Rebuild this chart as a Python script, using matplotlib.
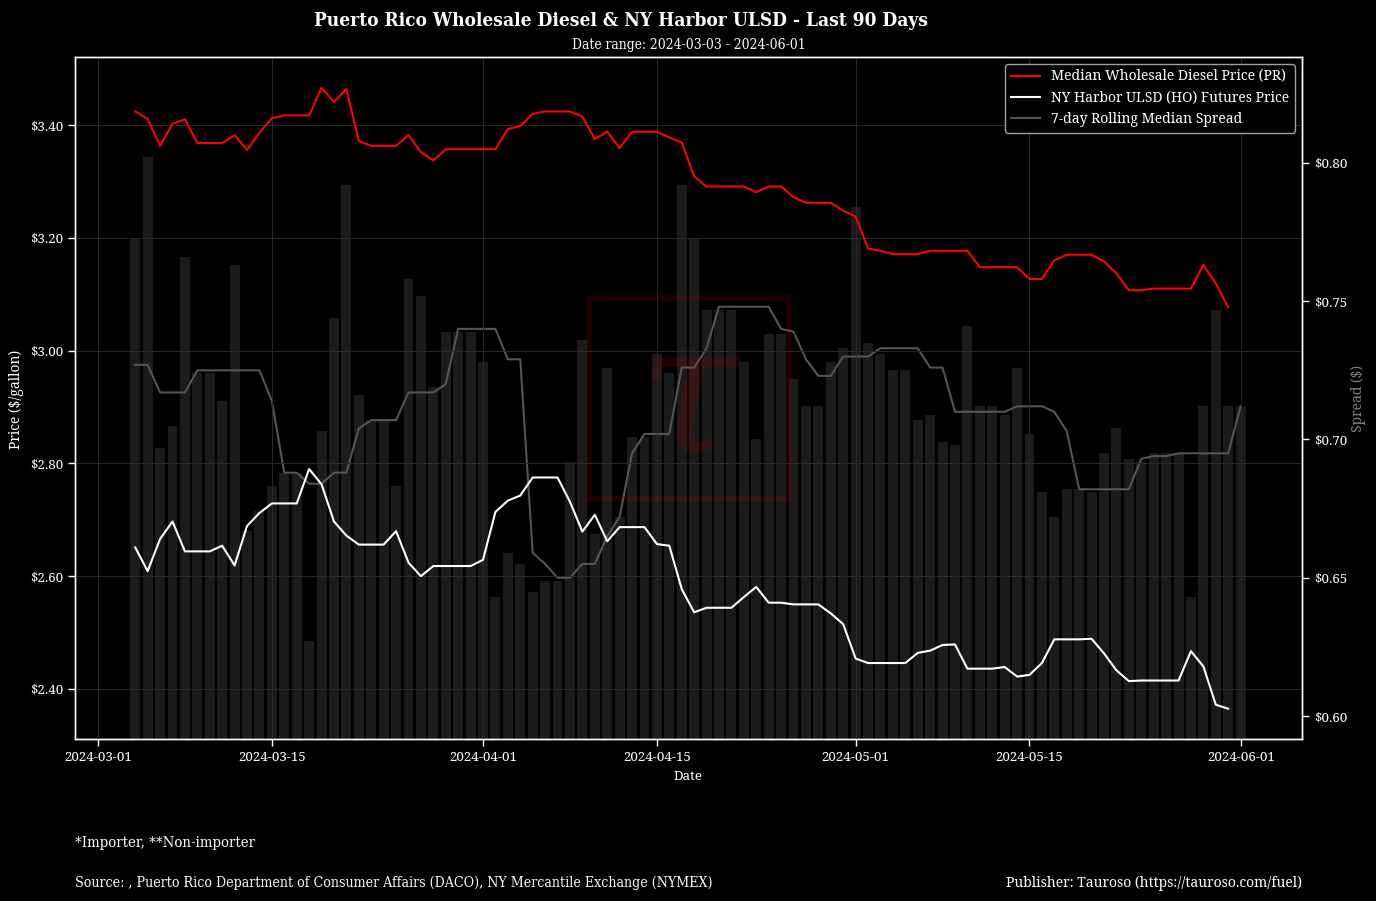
import matplotlib
matplotlib.use('Agg')
import matplotlib.pyplot as plt
import matplotlib.dates as mdates
from matplotlib import font_manager as fm
from matplotlib.font_manager import FontProperties
from matplotlib.patches import Rectangle
from matplotlib.lines import Line2D
from matplotlib.ticker import FuncFormatter, FixedLocator
import pandas as pd

# ---------------- data ----------------
dates = pd.date_range('2024-03-04', '2024-06-01', freq='D')   # 90 days
line_dates = dates[:89]                                       # lines end 2024-05-31

pr_price = [
    3.424, 3.411, 3.363, 3.402, 3.410, 3.368, 3.368, 3.368, 3.382, 3.356,
    3.386, 3.412, 3.417, 3.417, 3.417, 3.466, 3.441, 3.464, 3.372, 3.363,
    3.363, 3.363, 3.382, 3.352, 3.337, 3.357, 3.357, 3.357,
    3.357, 3.357, 3.393, 3.398, 3.420, 3.424, 3.424, 3.424, 3.415, 3.375,
    3.388, 3.359, 3.388, 3.388, 3.388, 3.378, 3.369, 3.309, 3.291, 3.291,
    3.291, 3.291, 3.281, 3.291, 3.291, 3.272, 3.262, 3.262, 3.262, 3.248,
    3.238, 3.181, 3.177, 3.171, 3.171, 3.171, 3.177, 3.177, 3.177, 3.177,
    3.148, 3.148, 3.148, 3.148, 3.127, 3.127, 3.160, 3.170, 3.170, 3.170,
    3.158, 3.137, 3.107, 3.107, 3.110, 3.110, 3.110, 3.110, 3.152, 3.119,
    3.077,
]

ho_price = [
    2.651, 2.609, 2.666, 2.697, 2.644, 2.644, 2.644, 2.654, 2.619, 2.689,
    2.712, 2.729, 2.729, 2.729, 2.790, 2.763, 2.697, 2.672, 2.656, 2.656,
    2.656, 2.680, 2.624, 2.600, 2.618, 2.618, 2.618, 2.618,
    2.629, 2.714, 2.734, 2.743, 2.775, 2.775, 2.775, 2.732, 2.679, 2.709,
    2.662, 2.687, 2.687, 2.687, 2.657, 2.654, 2.577, 2.536, 2.544, 2.544,
    2.544, 2.563, 2.581, 2.553, 2.553, 2.550, 2.550, 2.550, 2.534, 2.515,
    2.454, 2.446, 2.446, 2.446, 2.446, 2.464, 2.468, 2.478, 2.479, 2.436,
    2.436, 2.436, 2.439, 2.422, 2.425, 2.446, 2.488, 2.488, 2.488, 2.489,
    2.463, 2.433, 2.414, 2.415, 2.415, 2.415, 2.415, 2.467, 2.440, 2.372,
    2.365,
]

daily_spread = [
    0.773, 0.802, 0.697, 0.705, 0.766, 0.724, 0.724, 0.714, 0.763, 0.667,
    0.674, 0.683, 0.688, 0.688, 0.627, 0.703, 0.744, 0.792, 0.716, 0.707,
    0.707, 0.683, 0.758, 0.752, 0.719, 0.739, 0.739, 0.739,
    0.728, 0.643, 0.659, 0.655, 0.645, 0.649, 0.649, 0.692, 0.736, 0.666,
    0.726, 0.672, 0.701, 0.701, 0.731, 0.724, 0.792, 0.773, 0.747, 0.747,
    0.747, 0.728, 0.700, 0.738, 0.738, 0.722, 0.712, 0.712, 0.728, 0.733,
    0.784, 0.735, 0.731, 0.725, 0.725, 0.707, 0.709, 0.699, 0.698, 0.741,
    0.712, 0.712, 0.709, 0.726, 0.702, 0.681, 0.672, 0.682, 0.682, 0.681,
    0.695, 0.704, 0.693, 0.692, 0.695, 0.695, 0.695, 0.643, 0.712, 0.747,
    0.712, 0.712,
]

rolling_spread = [
    0.727, 0.727, 0.717, 0.717, 0.717, 0.725, 0.725, 0.725, 0.725, 0.725,
    0.725, 0.714, 0.688, 0.688, 0.684, 0.684, 0.688, 0.688, 0.704, 0.707,
    0.707, 0.707, 0.717, 0.717, 0.717, 0.720, 0.740, 0.740,
    0.740, 0.740, 0.729, 0.729, 0.659, 0.655, 0.650, 0.650, 0.655, 0.655,
    0.665, 0.672, 0.695, 0.702, 0.702, 0.702, 0.726, 0.726, 0.733, 0.748,
    0.748, 0.748, 0.748, 0.748, 0.740, 0.739, 0.729, 0.723, 0.723, 0.730,
    0.730, 0.730, 0.733, 0.733, 0.733, 0.733, 0.726, 0.726, 0.710, 0.710,
    0.710, 0.710, 0.710, 0.712, 0.712, 0.712, 0.710, 0.703, 0.682, 0.682,
    0.682, 0.682, 0.682, 0.693, 0.694, 0.694, 0.695, 0.695, 0.695, 0.695,
    0.695, 0.712,
]

x_ticks = ['2024-03-01', '2024-03-15', '2024-04-01', '2024-04-15',
           '2024-05-01', '2024-05-15', '2024-06-01']
left_ticks = [2.40, 2.60, 2.80, 3.00, 3.20, 3.40]
right_ticks = [0.60, 0.65, 0.70, 0.75, 0.80]

labels = ['Median Wholesale Diesel Price (PR)',
          'NY Harbor ULSD (HO) Futures Price',
          '7-day Rolling Median Spread']
title_txt = 'Puerto Rico Wholesale Diesel & NY Harbor ULSD - Last 90 Days'
subtitle_txt = 'Date range: 2024-03-03 - 2024-06-01'
foot1_txt = '*Importer, **Non-importer'
foot2_txt = 'Source: , Puerto Rico Department of Consumer Affairs (DACO), NY Mercantile Exchange (NYMEX)'
pub_txt = 'Publisher: Tauroso (https://tauroso.com/fuel)'

# ---------------- fonts ----------------
names = {f.name for f in fm.fontManager.ttflist}
serif = 'Noto Serif' if 'Noto Serif' in names else 'DejaVu Serif'
if 'Noto Serif' in names and any(f.name == 'Noto Serif' and 'condensed' in str(f.stretch) for f in fm.fontManager.ttflist):
    cond = dict(family='Noto Serif', stretch='condensed')
elif any(f.name == 'DejaVu Serif' and 'condensed' in str(f.stretch) for f in fm.fontManager.ttflist):
    cond = dict(family='DejaVu Serif', stretch='condensed')
elif 'Liberation Serif' in names:
    cond = dict(family='Liberation Serif')
else:
    cond = dict(family=serif)

plt.rcParams['font.family'] = [serif, 'DejaVu Sans']

W, H = 1376, 901
def fx(x): return x / W
def fy(y): return 1 - y / H

fig = plt.figure(figsize=(W / 100, H / 100), dpi=100)
fig.patch.set_facecolor('black')

def fit(t, target, vertical=False):
    r = fig.canvas.get_renderer()
    bb = t.get_window_extent(r)
    cur = bb.height if vertical else bb.width
    t.set_fontsize(t.get_fontsize() * target / cur)

# ---------------- axes ----------------
ax1 = fig.add_axes([fx(75), fy(739), (1302 - 75) / W, (739 - 57) / H])
ax2 = ax1.twinx()
ax1.set_zorder(2)
ax2.set_zorder(1)
ax1.patch.set_visible(False)
ax2.patch.set_visible(False)

ax2.bar(dates, daily_spread, width=0.8, color='#1b1b1b', zorder=1)
ax2.plot(dates, rolling_spread, color='#555555', lw=1.5, zorder=2)

ax1.plot(line_dates, pr_price, color='#ff0000', lw=1.5, zorder=3)
ax1.plot(line_dates, ho_price, color='white', lw=1.5, zorder=3)

x0 = pd.Timestamp('2024-03-01') + pd.Timedelta(days=-1.85)
x1 = pd.Timestamp('2024-03-01') + pd.Timedelta(days=96.94)
ax1.set_xlim(x0, x1)
ax1.set_ylim(2.3113, 3.5206)
ax2.set_ylim(0.5917, 0.8383)

ax1.xaxis.set_major_locator(FixedLocator(mdates.date2num(pd.to_datetime(x_ticks))))
ax1.xaxis.set_major_formatter(mdates.DateFormatter('%Y-%m-%d'))
ax1.yaxis.set_major_locator(FixedLocator(left_ticks))
ax1.yaxis.set_major_formatter(FuncFormatter(lambda v, p: '\\$%.2f' % v))
ax2.yaxis.set_major_locator(FixedLocator(right_ticks))
ax2.yaxis.set_major_formatter(FuncFormatter(lambda v, p: '\\$%.2f' % v))

ax1.grid(True, color='#2a2a2a', lw=0.7)
tick_fs = 9.6
for a in (ax1, ax2):
    a.tick_params(colors='white', labelsize=tick_fs, width=1, length=5)
    for s in a.spines.values():
        s.set_color('white')
        s.set_linewidth(1)

# watermark
fig.add_artist(Rectangle((fx(589), fy(499)), 200 / W, 201 / H, transform=fig.transFigure,
                         fill=False, edgecolor='red', alpha=0.12, lw=4, zorder=1.5))
fig.text(fx(688), fy(452), 'τ', fontsize=130, color='red', alpha=0.12, ha='center',
         va='baseline', family='DejaVu Serif', style='italic', zorder=1.5)

# legend
handles = [Line2D([], [], color='#ff0000', lw=1.5),
           Line2D([], [], color='white', lw=1.5),
           Line2D([], [], color='#555555', lw=1.5)]
tmp = fig.text(0, 0, labels[0], fontsize=10, family=serif)
fit(tmp, 235)
leg_fs = tmp.get_fontsize()
tmp.remove()
leg = ax1.legend(handles, labels, loc='upper right', facecolor='black', edgecolor='#a0a0a0',
                 framealpha=1, labelcolor='white', prop=FontProperties(family=serif, size=leg_fs),
                 borderaxespad=0.5, labelspacing=0.45, handlelength=2.1)
leg.get_frame().set_linewidth(1)

# texts
t = fig.text(fx(621.5), fy(26), title_txt, ha='center', va='baseline', color='white',
             fontweight='bold', fontsize=14, **cond)
fit(t, 617)
t = fig.text(fx(688.5), fy(48.5), subtitle_txt, ha='center', va='baseline', color='white',
             fontsize=10, **cond)
fit(t, 233)
t = fig.text(fx(75), fy(846.5), foot1_txt, ha='left', va='baseline', color='white',
             fontsize=10, **cond)
fit(t, 180)
t = fig.text(fx(75), fy(887), foot2_txt, ha='left', va='baseline', color='white',
             fontsize=10, **cond)
fit(t, 642)
t = fig.text(fx(1302), fy(887), pub_txt, ha='right', va='baseline', color='white',
             fontsize=10, family=serif)
fit(t, 296)

t = fig.text(fx(688.5), fy(780), 'Date', ha='center', va='baseline', color='white',
             fontsize=9, family=serif)
fit(t, 29)
pl = fig.text(fx(16), fy(399), 'Price (\\$/gallon)', ha='center', va='center', rotation=90,
              color='white', fontsize=9, family=serif)
fit(pl, 99, vertical=True)
fig.text(fx(1358), fy(398), 'Spread (\\$)', ha='center', va='center', rotation=90,
         color='#808080', fontsize=pl.get_fontsize(), family=serif)

fig.savefig('out.png', dpi=100, facecolor='black')
